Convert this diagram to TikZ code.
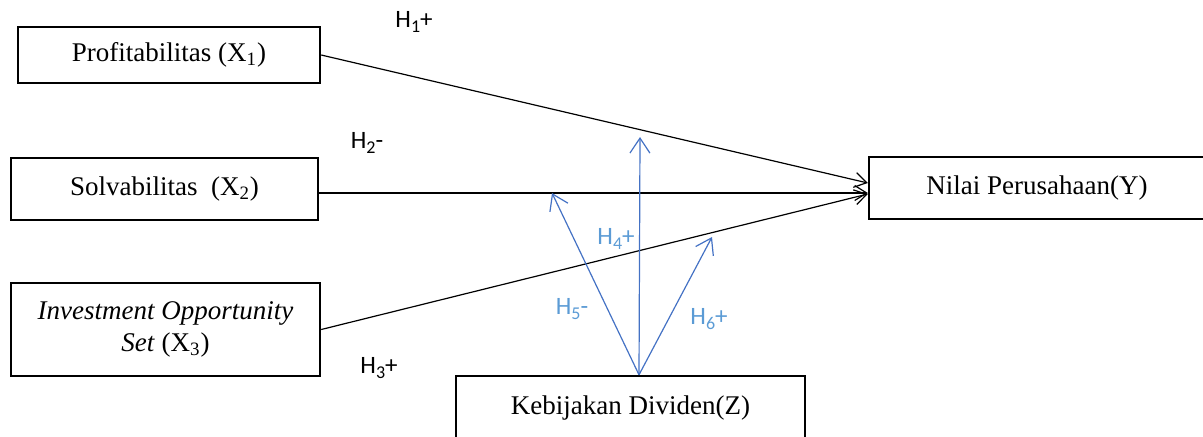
\documentclass[tikz,border=0pt]{standalone}
\usepackage{fontspec}
\setmainfont{Liberation Serif}
\newfontfamily\hypfont{Carlito}
\usetikzlibrary{arrows.meta}
\definecolor{modblue}{HTML}{4472C4}
\definecolor{hypblue}{HTML}{5B9BD5}
\newcommand\hsub[1]{\raisebox{-0.18em}{\fontsize{9}{10}\selectfont #1}}

\begin{document}
\begin{tikzpicture}[x=0.5pt,y=0.5pt,
  varbox/.style={draw,line width=1.2pt,inner sep=0pt,align=center,
    font=\fontsize{13.5}{16}\selectfont},
  hyp/.style={inner sep=0pt,font=\hypfont\fontsize{12.5}{14}\selectfont},
  effect/.style={line width=0.6pt,-{Straight Barb[length=6pt,width=7.5pt]}},
  moder/.style={modblue,line width=0.6pt,-{Straight Barb[length=7.5pt,width=10pt]}}]
 \clip (0,0) rectangle (1203,436);
 % variables
 \node[varbox,minimum width=151pt,minimum height=28pt] (x1) at (169,381) {Profitabilitas (X\textsubscript{1})};
 \node[varbox,minimum width=153.5pt,minimum height=31pt] (x2) at (164.5,247) {Solvabilitas~ (X\textsubscript{2})};
 \node[varbox,minimum width=154.5pt,minimum height=46.5pt] (x3) at (165.5,106.5) {\textit{Investment Opportunity}\\\textit{Set} (X\textsubscript{3})};
 \node[varbox,minimum width=168pt,minimum height=31pt] (y) at (1037,248) {Nilai Perusahaan(Y)};
 \node[varbox,minimum width=174.5pt,text height=19pt,text depth=15.5pt,anchor=base] (z) at (630.5,22) {Kebijakan Dividen(Z)};
 % direct effects
 \draw[effect] (x1.east) -- ([yshift=2.5pt]y.west);
 \draw[effect] ([yshift=-2pt]x2.east) -- ([yshift=-2.5pt]y.west);
 \draw[effect] (x3.east) -- ([yshift=-3pt]y.west);
 % moderation
 \coordinate (zt) at ([xshift=4.25pt]z.north);
 \coordinate (m4) at (640,299);
 \coordinate (m5) at (552,243);
 \coordinate (m6) at (712,199);
 \draw[moder] (zt) -- (m4);
 \draw[moder] (zt) -- (m5);
 \draw[moder] (zt) -- (m6);
 % hypotheses
 \node[hyp] (h1) at (414,414) {H\hsub{1}+};
 \node[hyp] (h2) at (367,293) {H\hsub{2}-};
 \node[hyp] (h3) at (379,68) {H\hsub{3}+};
 \node[hyp,hypblue] (h4) at (616,197) {H\hsub{4}+};
 \node[hyp,hypblue] (h5) at (572,127) {H\hsub{5}-};
 \node[hyp,hypblue] (h6) at (709,117) {H\hsub{6}+};
\end{tikzpicture}
\end{document}
